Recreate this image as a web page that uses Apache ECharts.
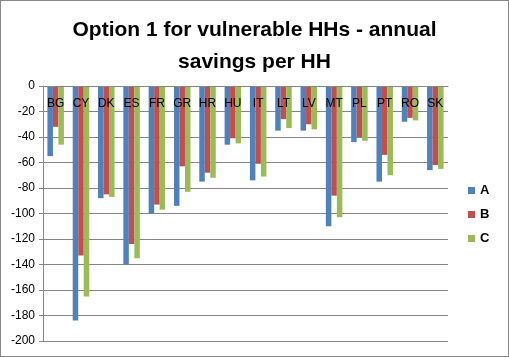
<!DOCTYPE html>
<html><head><meta charset="utf-8">
<script src="https://cdn.jsdelivr.net/npm/echarts@6/dist/echarts.min.js"></script>
<style>html,body{margin:0;padding:0;background:#fff}#c{width:507px;height:355px;border:1px solid #888;}</style>
</head><body><div id="c"></div>
<script>
const categories = ['BG','CY','DK','ES','FR','GR','HR','HU','IT','LT','LV','MT','PL','PT','RO','SK'];
const seriesA = [-55,-184,-88,-140,-100,-94,-75,-46,-74,-35,-35,-110,-44,-75,-28,-66];
const seriesB = [-32,-133,-85,-124,-93,-63,-68,-41,-61,-26,-30,-86,-40,-54,-25,-62];
const seriesC = [-46,-165,-87,-135,-97,-83,-72,-45,-71,-33,-34,-103,-43,-70,-27,-65];
const yTicks = {min:-200, max:0, interval:20};
const font = 'Liberation Sans, Arial, sans-serif';
const chart = echarts.init(document.getElementById('c'));
const mk = (name, data, color) => ({name, type:'bar', data, barWidth:5.5, barGap:'0%', itemStyle:{color}});
chart.setOption({
  animation:false,
  title:{text:'Option 1 for vulnerable HHs - annual\nsavings per HH', left:'center', top:8,
    textStyle:{fontFamily:font, fontWeight:'bold', fontSize:21, lineHeight:32, color:'#000'}},
  legend:{orient:'vertical', left:462, top:178, itemWidth:7, itemHeight:7, itemGap:11,
    icon:'rect', textStyle:{fontFamily:font, fontSize:13, fontWeight:'bold', color:'#000'}, data:['A','B','C']},
  grid:{left:42, right:60, top:85, bottom:15, outerBoundsMode:'none', containLabel:false},
  xAxis:{type:'category', data:categories, position:'top', z:10, axisLine:{onZero:false, lineStyle:{color:'#868686'}},
    axisTick:{inside:true, length:3, lineStyle:{color:'#868686'}},
    axisLabel:{margin:-24, rotate:0, interval:0, hideOverlap:false, fontFamily:font, fontSize:12, color:'#000'}},
  yAxis:{type:'value', min:yTicks.min, max:yTicks.max, interval:yTicks.interval,
    axisLine:{show:true, lineStyle:{color:'#868686'}}, axisTick:{show:true, length:4, lineStyle:{color:'#868686'}},
    splitLine:{lineStyle:{color:'#868686'}}, axisLabel:{margin:8, fontFamily:font, fontSize:12, color:'#000'}},
  series:[mk('A',seriesA,'#4F81BD'), mk('B',seriesB,'#C0504D'), mk('C',seriesC,'#9BBB59')]
});
</script></body></html>
